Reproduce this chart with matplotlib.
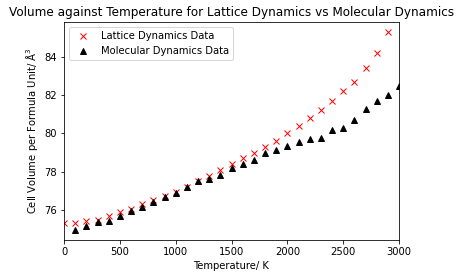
import matplotlib
matplotlib.use("Agg")
import matplotlib.pyplot as plt

# temperatures (K)
temp_ld = [0, 100, 200, 300, 400, 500, 600, 700, 800, 900, 1000, 1100, 1200, 1300, 1400,
           1500, 1600, 1700, 1800, 1900, 2000, 2100, 2200, 2300, 2400, 2500, 2600, 2700,
           2800, 2900]
vol_ld = [75.32, 75.32, 75.4, 75.5, 75.7, 75.9, 76.05, 76.3, 76.5, 76.75, 76.95, 77.2,
          77.5, 77.8, 78.1, 78.4, 78.7, 79.0, 79.3, 79.6, 80.0, 80.37, 80.8, 81.2, 81.68,
          82.2, 82.7, 83.4, 84.2, 85.3]

temp_md = [100, 200, 300, 400, 500, 600, 700, 800, 900, 1000, 1100, 1200, 1300, 1400,
           1500, 1600, 1700, 1800, 1900, 2000, 2100, 2200, 2300, 2400, 2500, 2600, 2700,
           2800, 2900, 3000]
vol_md = [74.95, 75.15, 75.35, 75.45, 75.7, 75.95, 76.15, 76.4, 76.7, 76.9, 77.2, 77.5,
          77.6, 77.85, 78.2, 78.4, 78.6, 78.95, 79.15, 79.35, 79.55, 79.7, 79.75, 80.2,
          80.3, 80.7, 81.26, 81.68, 82.0, 82.5]

fig = plt.figure(figsize=(462 / 72, 278 / 72), dpi=72)
ax = fig.add_axes([64 / 462, 1 - 240 / 278, 335 / 462, 218 / 278])
ax.plot(temp_ld, vol_ld, "rx", label="Lattice Dynamics Data")
ax.plot(temp_md, vol_md, "k^", label="Molecular Dynamics Data")
ax.set_xlim(0, 3000)
ax.set_xlabel("Temperature/ K")
ax.set_ylabel("Cell Volume per Formula Unit/ Å$^3$")
ax.set_title("Volume against Temperature for Lattice Dynamics vs Molecular Dynamics")
ax.legend(loc="upper left")
fig.savefig("out.png", dpi=72)
